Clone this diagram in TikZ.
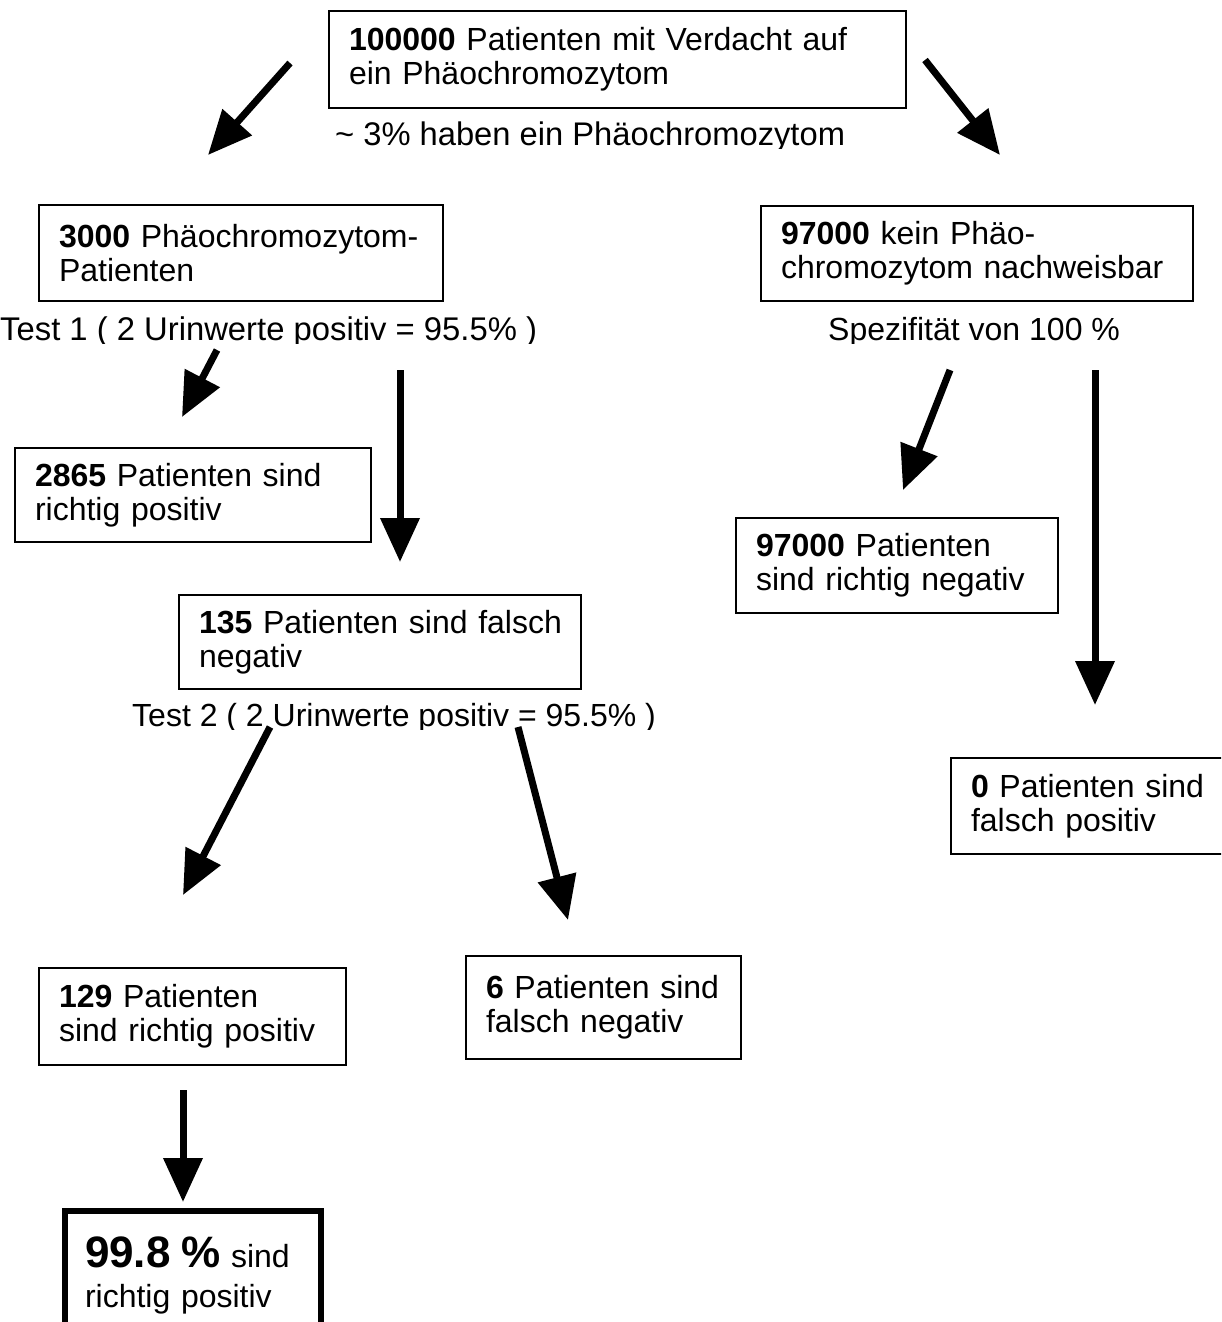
\documentclass[tikz,border=0pt]{standalone}
\usepackage{fontspec}
\setmainfont{Liberation Sans}
\usetikzlibrary{arrows.meta}
\begin{document}
\begin{tikzpicture}[x=1pt,y=-1pt,
  box/.style={draw, line width=2pt, anchor=north west, align=left, inner xsep=20pt, inner ysep=0pt, font=\fontsize{32}{34}\selectfont},
  lbl/.style={anchor=base west, inner sep=0pt, font=\fontsize{32}{34}\selectfont},
  arr/.style={line width=7pt, -{Triangle[length=44pt,width=38pt]}}]
\useasboundingbox (0,0) rectangle (1221,1322);
\clip (0,0) rectangle (1221,1322);

% boxes
\node[box, text width=537pt, minimum height=97pt] (top) at (328,10) {\mbox{\textbf{100000} Patienten mit Verdacht auf}\\ein Phäochromozytom};
\node[box, text width=364pt, minimum height=96pt] (pheo) at (38,204) {\mbox{\textbf{3000} Phäochromozytom-}\\Patienten};
\node[box, text width=392pt, minimum height=95pt] (nopheo) at (760,205) {\textbf{97000} kein Phäo-\\\mbox{chromozytom nachweisbar}};
\node[box, text width=316pt, minimum height=94pt] (rp1) at (14,447) {\mbox{\textbf{2865} Patienten sind}\\richtig positiv};
\node[box, text width=282pt, minimum height=95pt] (rn) at (735,517) {\textbf{97000} Patienten\\\mbox{sind richtig negativ}};
\node[box, text width=362pt, minimum height=94pt] (fn1) at (178,594) {\mbox{\textbf{135} Patienten sind falsch}\\negativ};
\node[box, text width=252pt, minimum height=96pt] (fp) at (950,757) {\mbox{\textbf{0} Patienten sind}\\falsch positiv};
\node[box, text width=267pt, minimum height=97pt] (rp2) at (38,967) {\textbf{129} Patienten\\\mbox{sind richtig positiv}};
\node[box, text width=235pt, minimum height=103pt] (fn2) at (465,955) {\mbox{\textbf{6} Patienten sind}\\falsch negativ};
\node[box, line width=6pt, text width=216pt, minimum height=128pt, font=\fontsize{32}{40}\selectfont] (final) at (62,1208) {\mbox{{\fontsize{44}{44}\selectfont\bfseries 99.8 \%} sind}\\richtig positiv};

% labels (clipped text boxes)
\begin{scope}
\clip (300,100) rectangle (900,148);
\node[lbl, font=\fontsize{32.7}{34}\selectfont] (l1) at (335,145) {\textasciitilde{} 3\% haben ein Phäochromozytom};
\end{scope}
\begin{scope}
\clip (0,300) rectangle (600,343);
\node[lbl, font=\fontsize{32.8}{34}\selectfont] (l2) at (0,340) {Test 1 ( 2 Urinwerte positiv = 95.5\% )};
\end{scope}
\begin{scope}
\clip (800,300) rectangle (1150,343);
\node[lbl] (l3) at (828,340) {Spezifität von 100 \%};
\end{scope}
\begin{scope}
\clip (100,690) rectangle (700,729);
\node[lbl] (l4) at (132,726) {Test 2 ( 2 Urinwerte positiv = 95.5\% )};
\end{scope}

% arrow end points
\coordinate (a1s) at (290,63);  \coordinate (a1e) at (208,155);
\coordinate (a2s) at (925,60);  \coordinate (a2e) at (1000,155);
\coordinate (a3s) at (217,350); \coordinate (a3e) at (182,417);
\coordinate (a4s) at (400,370); \coordinate (a4e) at (400,562);
\coordinate (a5s) at (950,370); \coordinate (a5e) at (903,490);
\coordinate (a6s) at (1095,370); \coordinate (a6e) at (1095,705);
\coordinate (a7s) at (270,727); \coordinate (a7e) at (183,895);
\coordinate (a8s) at (518,727); \coordinate (a8e) at (568,920);
\coordinate (a9s) at (183,1090); \coordinate (a9e) at (183,1202);

\draw[arr] (a1s) -- (a1e);
\draw[arr] (a2s) -- (a2e);
\draw[arr] (a3s) -- (a3e);
\draw[arr] (a4s) -- (a4e);
\draw[arr] (a5s) -- (a5e);
\draw[arr] (a6s) -- (a6e);
\draw[arr] (a7s) -- (a7e);
\draw[arr] (a8s) -- (a8e);
\draw[arr] (a9s) -- (a9e);
\end{tikzpicture}
\end{document}
